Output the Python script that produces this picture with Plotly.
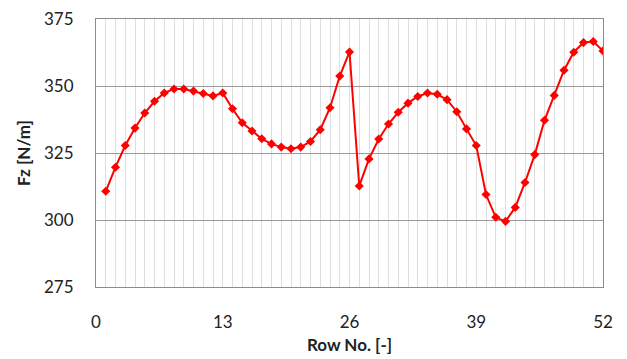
import plotly.graph_objects as go

rows = list(range(1, 53))
fz = [310.7, 319.7, 327.8, 334.3, 339.9, 344.3, 347.4, 348.9, 348.9, 348.1,
      347.2, 346.3, 347.4, 341.5, 336.3, 333.2, 330.3, 328.4, 327.2, 326.6,
      327.2, 329.3, 333.7, 341.9, 353.7, 362.7, 312.7, 322.8, 330.2, 335.8,
      340.2, 343.6, 346.1, 347.4, 346.9, 344.9, 340.4, 334.0, 327.8, 309.5,
      301.0, 299.5, 304.7, 314.0, 324.4, 337.2, 346.5, 355.9, 362.6, 366.2,
      366.6, 363.1]
x_ticks = [0, 13, 26, 39, 52]
y_ticks = [275, 300, 325, 350, 375]

font_family = "Lato, 'Open Sans', sans-serif"

fig = go.Figure()
fig.add_trace(go.Scatter(
    x=rows, y=fz, mode="lines+markers",
    line=dict(color="#ff0000", width=2),
    marker=dict(symbol="diamond", size=7, color="#ff0000"),
    showlegend=False,
))

fig.update_layout(
    width=627, height=359,
    margin=dict(l=96, r=24, t=19, b=72, autoexpand=False),
    paper_bgcolor="white", plot_bgcolor="white",
    font=dict(family=font_family, size=17, color="#222222"),
)
fig.update_xaxes(
    range=[0, 52], tickvals=x_ticks, ticks="", automargin=False,
    showgrid=True, gridcolor="#dedede", griddash="solid", gridwidth=1,
    minor=dict(dtick=1, showgrid=True, gridcolor="#dedede", griddash="solid", gridwidth=1),
    showline=True, linecolor="#8c8c8c", linewidth=1, mirror=True,
    ticklabelstandoff=20,
    title=dict(text="<b>Row No. [-]</b>", font=dict(size=17), standoff=7),
    zeroline=False,
)
fig.update_yaxes(
    range=[275, 375], tickvals=y_ticks, ticks="", automargin=False,
    showgrid=True, gridcolor="#9a9a9a", gridwidth=1,
    showline=True, linecolor="#8c8c8c", linewidth=1, mirror=True,
    ticklabelstandoff=18,
    title=dict(text="<b>Fz [N/m]</b>", font=dict(size=17), standoff=9),
    zeroline=False,
)

fig.write_html("out.html", config={"displayModeBar": False},
               post_script="document.body.style.margin='0';")
